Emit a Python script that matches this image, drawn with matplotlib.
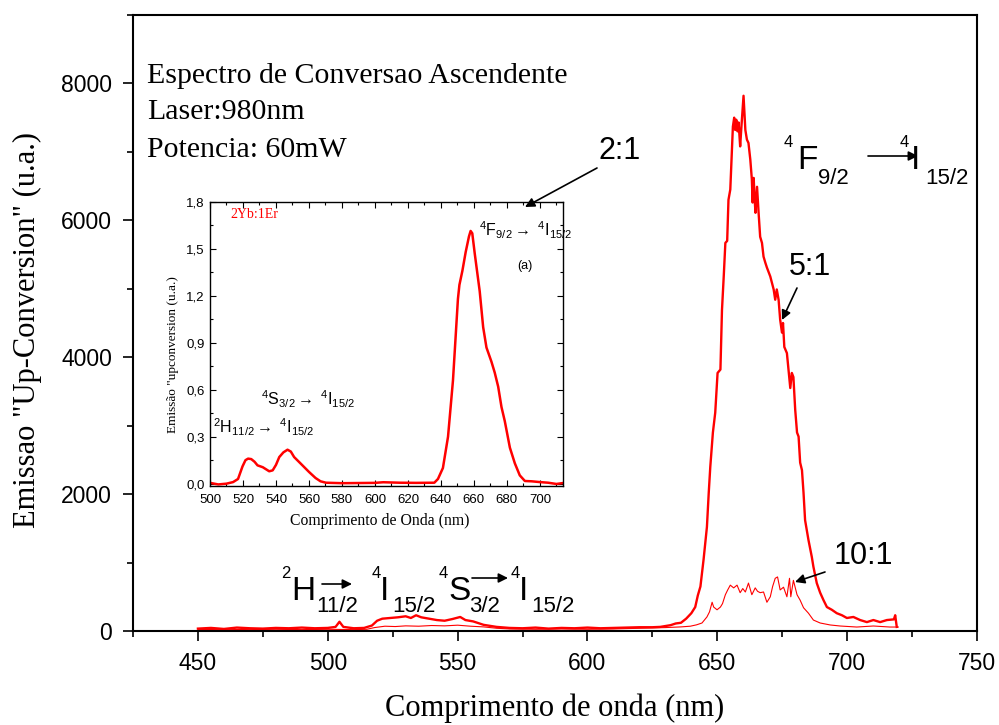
import matplotlib
matplotlib.use('Agg')
import matplotlib.pyplot as plt
from matplotlib.ticker import MultipleLocator, FuncFormatter
from matplotlib.patches import FancyArrowPatch

# espectro 5:1 (linha grossa)
wl_5 = [450, 455, 460, 465, 470, 475, 480, 485, 490, 495, 500, 503, 504.5, 506, 510, 514,
        517, 519, 521, 524, 527, 530, 532, 534, 536, 539, 542, 545, 548, 551, 553, 556,
        560, 565, 570, 575, 580, 585, 590, 595, 600, 605, 610, 615, 620, 625, 628, 632,
        634, 636, 638, 640, 641.5, 642.5, 643.5, 644.7, 646, 646.7, 647.3, 648.3, 649.2,
        650.1, 651.2, 651.8, 652.5, 653.1, 653.8, 654.3, 655, 656, 656.5, 656.9, 657.3,
        657.8, 658.2, 658.8, 659.2, 660.1, 660.8, 661.4, 662, 662.7, 663.3, 663.6, 664,
        664.4, 664.7, 665.3, 665.9, 666.5, 667.2, 667.8, 668.5, 669.1, 669.7, 670.4, 671,
        671.7, 672.3, 672.9, 673.6, 674.2, 674.9, 675.3, 675.8, 676.8, 677.4, 678.1, 678.7,
        679.3, 680, 680.7, 681.3, 681.9, 682.6, 683.2, 683.8, 685.1, 686.4, 687, 688.3,
        689.6, 690.9, 692.2, 694.1, 696, 698, 699.9, 702.4, 705, 707.6, 710.1, 712.7,
        715.3, 718, 718.5, 719.1]
em_5 = [35, 45, 30, 50, 40, 35, 45, 40, 50, 40, 45, 60, 135, 60, 40, 45,
        80, 150, 180, 190, 200, 215, 190, 230, 200, 180, 160, 150, 175, 205, 160, 140,
        90, 60, 45, 40, 50, 35, 45, 40, 50, 40, 45, 50, 55, 55, 60, 85,
        110, 120, 180, 260, 350, 520, 650, 1040, 1520, 2020, 2400, 2900, 3190,
        3770, 3820, 4690, 5200, 5670, 5700, 6300, 6450, 7370, 7500, 7320, 7470,
        7300, 7430, 7080, 7320, 7820, 7320, 7180, 7130, 6890, 6600, 6260, 6620,
        6300, 6110, 6490, 6110, 5760, 5670, 5470, 5380, 5310, 5250, 5180, 5090,
        4990, 4840, 4990, 4840, 4550, 4360, 4500, 4150, 4060, 3820, 3550, 3770,
        3710, 3230, 2900, 2840, 2460, 2350, 2020, 1620, 1330, 1080, 940, 700,
        560, 450, 350, 310, 260, 230, 190, 205, 160, 130, 160, 130,
        160, 170, 230, 60]

# espectro 10:1 (linha fina)
wl_10 = [450, 460, 470, 480, 490, 500, 510, 515, 518, 522, 526, 530, 535, 540, 545, 550,
         555, 560, 565, 570, 580, 590, 600, 610, 620, 630, 636, 639.6, 642, 644.1, 646,
         647, 648, 648.6, 649.9, 651.2, 652, 653.1, 654, 655, 656.3, 657.6, 658.8, 659.8,
         660.8, 662, 663.3, 664.6, 665.5, 666.5, 667.8, 669.1, 670.4, 671.3, 672.3, 673.2,
         674.2, 675.5, 676.8, 677.8, 678.3, 679.3, 680.7, 681.9, 683.2, 685.1, 687, 689.6,
         693.5, 697.3, 703.7, 710.1, 716.5, 719.7]
em_10 = [20, 25, 20, 25, 20, 25, 20, 25, 50, 70, 65, 75, 70, 80, 75, 85,
         70, 60, 40, 30, 25, 30, 25, 30, 40, 50, 60, 70, 90, 117, 205,
         280, 420, 350, 310, 350, 400, 530, 600, 670, 630, 670, 560, 620,
         570, 700, 530, 630, 580, 560, 570, 420, 500, 650, 770, 790,
         600, 640, 500, 770, 500, 740, 530, 450, 340, 260, 160, 117,
         88, 73, 58, 73, 58, 58]

# inserto 2Yb:1Er
wl_in = [500, 505, 510, 514, 517, 519.7, 521.5, 523.1, 525, 527, 528.8, 532, 535.9, 538,
         540, 542, 544.5, 547, 549, 551, 555, 560, 564, 567, 570.3, 580, 590, 600, 605,
         615, 625, 636, 638.2, 641.2, 644.3, 647.3, 648.8, 650.3, 651.2, 653, 655, 657,
         658, 659, 660.5, 663.5, 665.6, 667.6, 670.6, 672.6, 674.7, 676.7, 678.7, 681.8,
         684.8, 687.8, 690.9, 695, 700, 705, 710, 714]
em_in = [0.005, -0.005, 0.0, 0.01, 0.03, 0.11, 0.15, 0.16, 0.157, 0.14, 0.117, 0.105, 0.079, 0.085,
         0.12, 0.17, 0.20, 0.217, 0.205, 0.17, 0.128, 0.075, 0.036, 0.015, 0.006, 0.003, 0.004, 0.005, 0.009,
         0.006, 0.005, 0.006, 0.03, 0.1, 0.3, 0.66, 0.92, 1.18, 1.27, 1.36, 1.48, 1.58,
         1.615, 1.60, 1.47, 1.23, 1.0, 0.87, 0.78, 0.71, 0.62, 0.49, 0.40, 0.23,
         0.13, 0.053, 0.017, 0.015, 0.01, 0.006, -0.002, 0.004]

plt.rcParams['font.family'] = 'Liberation Sans'
plt.rcParams['mathtext.fontset'] = 'custom'
plt.rcParams['mathtext.rm'] = 'Liberation Sans'
plt.rcParams['mathtext.it'] = 'Liberation Sans:italic'
plt.rcParams['mathtext.bf'] = 'Liberation Sans:bold'

W, H = 999, 725
SERIF = 'Liberation Serif'


def fx(x):
    return x / W


def fy(y):
    return 1 - y / H


fig = plt.figure(figsize=(W / 100, H / 100), dpi=100)

# eixo principal
ax = fig.add_axes([fx(133), fy(631), fx(977) - fx(133), fy(15) - fy(631)])
ax.plot(wl_5, em_5, color='red', lw=1.7)
ax.plot(wl_10, em_10, color='red', lw=0.8)
ax.set_xlim(425, 750)
ax.set_ylim(0, 9000)
ax.xaxis.set_major_locator(MultipleLocator(50))
ax.xaxis.set_minor_locator(MultipleLocator(25))
ax.yaxis.set_major_locator(MultipleLocator(2000))
ax.yaxis.set_minor_locator(MultipleLocator(1000))
ax.tick_params(which='both', direction='out', top=False, right=False, width=1.2)
ax.tick_params(which='major', length=7, pad=8, labelsize=16.5)
ax.tick_params(which='minor', length=4.5)
for s in ax.spines.values():
    s.set_linewidth(1.5)

fig.text(fx(555), fy(708), 'Comprimento de onda (nm)', family=SERIF, size=22,
         ha='center', va='center')
fig.text(fx(27), fy(330), 'Emissao "Up-Conversion" (u.a.)', family=SERIF, size=22,
         ha='center', va='center', rotation=90)

for y, s in [(76, 'Espectro de Conversao Ascendente'), (112, 'Laser:980nm'),
             (150, 'Potencia: 60mW')]:
    fig.text(fx(147), fy(y), s, family=SERIF, size=21.5, va='center')


def piece(x, y, s, size):
    fig.text(fx(x), fy(y), s, size=size, ha='left', va='baseline')


def arrow(x0, y0, x1, y1, lw=1.2, ms=14):
    p = FancyArrowPatch((fx(x0), fy(y0)), (fx(x1), fy(y1)), transform=fig.transFigure,
                        arrowstyle='-|>', color='black', lw=lw, mutation_scale=ms,
                        shrinkA=0, shrinkB=0, zorder=6)
    fig.add_artist(p)


# transicoes no grafico principal
piece(784, 147, '4', 12)
piece(797, 169, 'F', 24)
piece(818, 184, '9/2', 16)
arrow(868, 156, 918, 156)
piece(900, 147, '4', 12)
piece(911, 169, 'I', 24)
piece(925, 184, '15/2', 16)

piece(281, 578, '2', 12)
piece(291, 600, 'H', 24)
piece(316, 612, '11/2', 16)
arrow(322, 584, 352, 584)
piece(372, 578, '4', 12)
piece(380, 600, 'I', 24)
piece(392, 612, '15/2', 16)
piece(439, 578, '4', 12)
piece(448, 600, 'S', 24)
piece(469, 612, '3/2', 16)
arrow(472, 578, 508, 578)
piece(511, 578, '4', 12)
piece(519, 600, 'I', 24)
piece(531, 612, '15/2', 16)

# razoes Yb:Er
for x, y, s in [(620, 151, '2:1'), (810, 267, '5:1'), (863, 556, '10:1')]:
    fig.text(fx(x), fy(y), s, size=22, ha='center', va='center')
arrow(597, 168, 525, 207)
arrow(797, 288, 782, 320)
arrow(825, 572, 795, 582)

# inserto
ax_in = fig.add_axes([fx(210), fy(486), fx(563) - fx(210), fy(202) - fy(486)])
ax_in.plot(wl_in, em_in, color='red', lw=1.8)
ax_in.set_xlim(500, 714)
ax_in.set_ylim(-0.015, 1.8)
ax_in.xaxis.set_major_locator(MultipleLocator(20))
ax_in.xaxis.set_minor_locator(MultipleLocator(10))
ax_in.yaxis.set_major_locator(MultipleLocator(0.3))
ax_in.yaxis.set_minor_locator(MultipleLocator(0.15))
ax_in.yaxis.set_major_formatter(FuncFormatter(lambda v, p: f'{v:.1f}'.replace('.', ',')))
ax_in.tick_params(which='both', direction='in', top=True, right=True, width=0.8,
                  labelsize=9.5)
ax_in.tick_params(which='major', length=4, pad=4)
ax_in.tick_params(axis='x', which='major', pad=6)
ax_in.tick_params(which='minor', length=2)
for s in ax_in.spines.values():
    s.set_linewidth(1.0)

fig.text(fx(380), fy(521), 'Comprimento de Onda (nm)', family=SERIF, size=11.3,
         ha='center', va='center')
fig.text(fx(173), fy(355), 'Emissão "upconversion (u.a.)', family=SERIF, size=9.5,
         ha='center', va='center', rotation=90)
fig.text(fx(230), fy(214), '2Yb:1Er', family=SERIF, size=10, color='red', va='center')
fig.text(fx(525), fy(266), '(a)', size=9, ha='center', va='center')
fig.text(fx(479), fy(236), r'$^{4}$F$_{9/2}$$\rightarrow$ $^{4}$I$_{15/2}$', size=11.5,
         va='baseline')
fig.text(fx(261), fy(405), r'$^{4}$S$_{3/2}$$\rightarrow$ $^{4}$I$_{15/2}$', size=11.5,
         va='baseline')
fig.text(fx(213), fy(433), r'$^{2}$H$_{11/2}$$\rightarrow$ $^{4}$I$_{15/2}$', size=11.5,
         va='baseline')

fig.savefig('out.png', dpi=100)
